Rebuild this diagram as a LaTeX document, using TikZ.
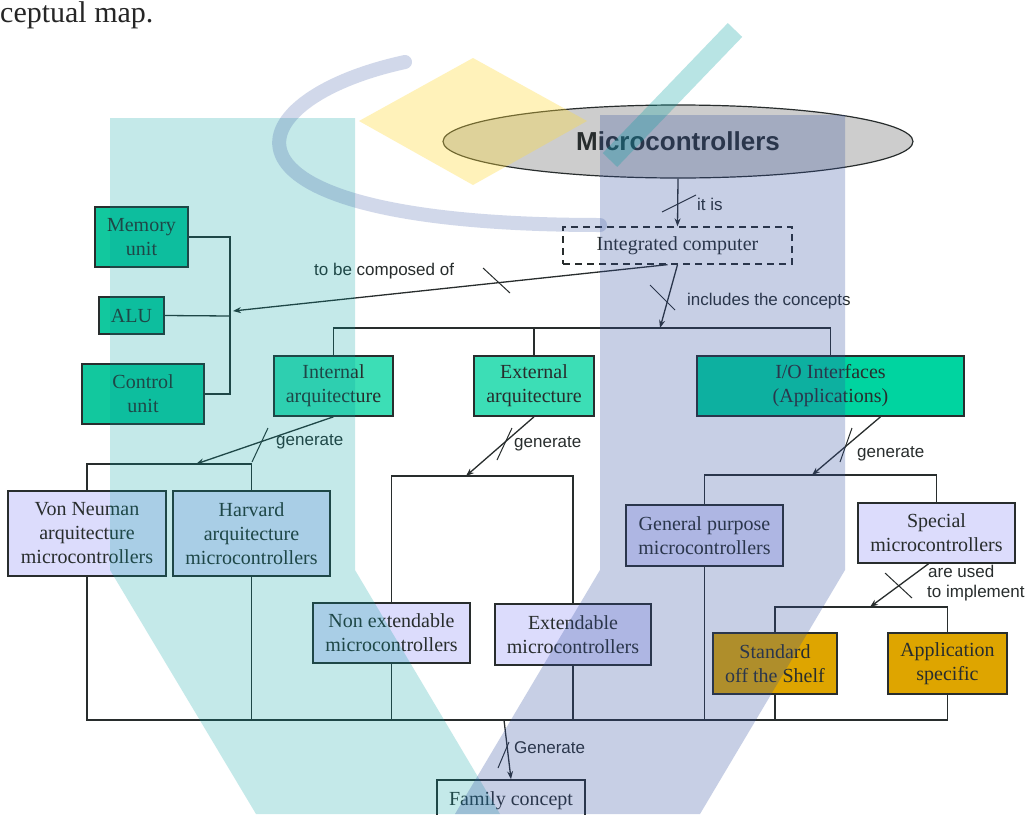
\documentclass[tikz,border=0pt]{standalone}
\usepackage{fontspec}
\setmainfont{Liberation Serif}
\setsansfont{Liberation Sans}
\usetikzlibrary{arrows.meta,shapes.geometric}

\definecolor{tealbox}{RGB}{18,200,158}
\definecolor{tealarch}{RGB}{60,222,182}
\definecolor{iobox}{RGB}{0,212,160}
\definecolor{lav}{RGB}{220,220,252}
\definecolor{gold}{RGB}{222,165,0}
\definecolor{ellgray}{RGB}{205,205,205}
\definecolor{ink}{RGB}{40,45,45}
\definecolor{wmteal}{RGB}{0,160,160}
\definecolor{wmblue}{RGB}{50,80,160}
\definecolor{wmyellow}{RGB}{255,220,60}

\begin{document}
\begin{tikzpicture}[x=1pt,y=-1pt,
  box/.style={draw=ink, line width=1.6pt, inner sep=0pt, align=center,
    font=\fontsize{20}{24}\selectfont, text=ink},
  lbl/.style={anchor=base west, inner sep=0pt,
    font=\sffamily\fontsize{17}{20}\selectfont, text=ink},
  conn/.style={draw=ink, line width=1.3pt},
  arr/.style={conn, -{Stealth[length=8pt,width=6pt]}},
  cut/.style={draw=ink, line width=1pt},
]
\clip (0,0) rectangle (1030,814);
\fill[white] (0,0) rectangle (1030,814);

% caption fragment at the top
\node[anchor=base west, inner sep=0pt, font=\fontsize{30}{34}\selectfont,
  text=black!85] (cap) at (0,22) {ceptual map.};

% main concept
\node[ellipse, draw=ink, line width=1.2pt, fill=ellgray, inner sep=0pt,
  minimum width=470pt, minimum height=73pt, text=ink,
  font=\sffamily\bfseries\fontsize{26}{30}\selectfont] (mc) at (678,141.5) {Microcontrollers};
\node[box, dashed, dash pattern=on 7pt off 5pt, line width=1.3pt,
  minimum width=229pt, minimum height=37pt] (ic) at (677.5,245.5) {Integrated computer};

% components
\node[box, fill=tealbox, minimum width=93pt, minimum height=60pt] (mem) at (141.5,237) {Memory\\unit};
\node[box, fill=tealbox, minimum width=65pt, minimum height=37pt] (alu) at (131.5,315.5) {ALU};
\node[box, fill=tealbox, minimum width=122pt, minimum height=60pt] (ctl) at (143,394) {Control\\unit};

% concepts
\node[box, fill=tealarch, minimum width=119pt, minimum height=60pt] (int) at (333.5,386) {Internal\\arquitecture};
\node[box, fill=tealarch, minimum width=120pt, minimum height=60pt] (ext) at (534,386) {External\\arquitecture};
\node[box, fill=iobox, minimum width=267pt, minimum height=60pt] (io) at (830.5,386) {I/O Interfaces\\(Applications)};

% kinds of microcontrollers
\node[box, fill=lav, minimum width=158pt, minimum height=85pt] (von) at (87,533.5) {Von Neuman\\arquitecture\\microcontrollers};
\node[box, fill=lav, minimum width=157pt, minimum height=85pt] (har) at (251.5,533.5) {Harvard\\arquitecture\\microcontrollers};
\node[box, fill=lav, minimum width=157pt, minimum height=60pt] (nonx) at (391.5,633) {Non extendable\\microcontrollers};
\node[box, fill=lav, minimum width=156pt, minimum height=61pt] (extd) at (573,634.5) {Extendable\\microcontrollers};
\node[box, fill=lav, minimum width=157pt, minimum height=61pt] (gp) at (704.5,535.5) {General purpose\\microcontrollers};
\node[box, fill=lav, minimum width=157pt, minimum height=60pt] (sp) at (936.5,533) {Special\\microcontrollers};
\node[box, fill=gold, minimum width=124pt, minimum height=61pt] (std) at (775,663.5) {Standard\\off the Shelf};
\node[box, fill=gold, minimum width=119pt, minimum height=61pt] (app) at (947.5,663.5) {Application\\specific};
\node[box, fill=white, minimum width=148pt, minimum height=42pt] (fam) at (511,801) {Family concept};

% junction points
\coordinate (cbus) at (230,316);
\coordinate (cin) at (233,311);
\coordinate (topin) at (660,328);
\coordinate (intin) at (196,464);
\coordinate (extin) at (466,476);
\coordinate (ioin) at (812,475);
\coordinate (spin) at (870,607);
\coordinate (botout) at (504,720);

% it is
\draw[arr] (mc.south) -- (ic.north);
\draw[cut] (662,212) -- (696,195);
\node[lbl] (l1) at (697,210) {it is};

% to be composed of
\draw[conn] (mem.east) -| (cbus);
\draw[conn] (ctl.east) -| (cbus);
\draw[conn] (alu.east) -- (cbus);
\draw[arr] ([xshift=-10pt]ic.south) -- (cin);
\draw[cut] (483,268) -- (510,293);
\node[lbl] (l2) at (314,275) {to be composed of};

% includes the concepts
\draw[arr] (ic.south) -- (topin);
\draw[cut] (650,285) -- (675,310);
\node[lbl] (l3) at (687,305) {includes the concepts};
\draw[conn] (int.north) -- (int.north |- topin) -| (io.north);
\draw[conn] (ext.north) -- (ext.north |- topin);

% internal architecture
\draw[arr] (int.south) -- (intin);
\draw[cut] (268,428) -- (252,462);
\node[lbl] (l4) at (276,445) {generate};
\draw[conn] (von.north) |- (intin) -| (har.north);

% external architecture
\draw[arr] (ext.south) -- (extin);
\draw[cut] (512,428) -- (497,460);
\node[lbl] (l5) at (514,447) {generate};
\draw[conn] (nonx.north) |- (extin) -| (extd.north);

% interfaces
\draw[arr] ([xshift=50pt]io.south) -- (ioin);
\draw[cut] (852,428) -- (840,462);
\node[lbl] (l6) at (857,457) {generate};
\draw[conn] (gp.north) |- (ioin) -| (sp.north);

% special microcontrollers
\draw[arr] ([xshift=-8pt]sp.south) -- (spin);
\draw[cut] (885,573) -- (912,598);
\node[lbl] (l7) at (928,577) {are used};
\node[lbl] (l8) at (927,597) {to implement};
\draw[conn] (std.north) |- (spin) -| (app.north);

% family concept
\draw[conn] (von.south) |- (botout) -| (app.south);
\draw[conn] (har.south) -- (har.south |- botout);
\draw[conn] (nonx.south) -- (nonx.south |- botout);
\draw[conn] (extd.south) -- (extd.south |- botout);
\draw[conn] (gp.south) -- (gp.south |- botout);
\draw[conn] (std.south) -- (std.south |- botout);
\draw[arr] (botout) -- (fam.north);
\draw[cut] (509,742) -- (498,768);
\node[lbl] (l9) at (514,753) {Generate};

% translucent emblem laid over the map
\fill[wmteal, opacity=.23] (110,118) -- (355,118) -- (355,570) -- (500,814)
  -- (256,814) -- (110,570) -- cycle;
\fill[wmblue, opacity=.27] (600,115) -- (845,115) -- (845,570) -- (700,814)
  -- (455,814) -- (600,570) -- cycle;
\fill[wmyellow, opacity=.35] (473,58) -- (587,121) -- (473,185) -- (359,121) -- cycle;
\draw[wmblue, opacity=.22, line width=14pt, line cap=round]
  (405,62) .. controls (230,100) and (190,225) .. (600,225);
\draw[wmteal, opacity=.28, line width=20pt] (735,30) -- (610,160);
\end{tikzpicture}
\end{document}
